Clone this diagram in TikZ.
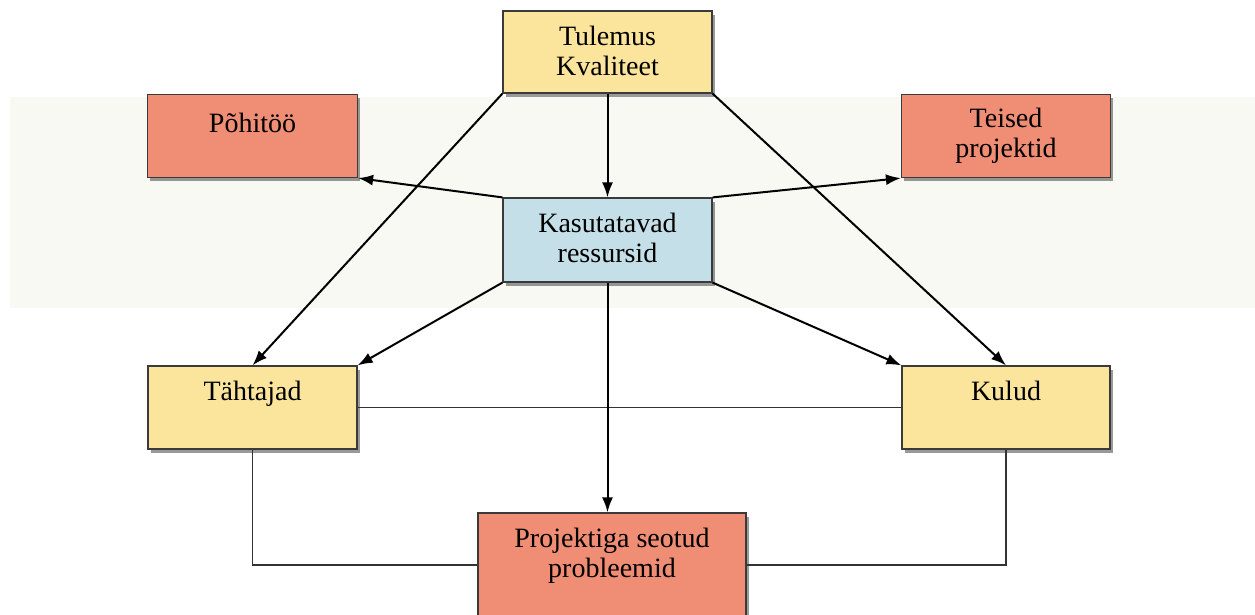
\documentclass[tikz,border=0pt]{standalone}
\usepackage{fontspec}
\setmainfont{Liberation Serif}
\usetikzlibrary{shadows,arrows.meta}
\definecolor{boxyellow}{HTML}{FBE59C}
\definecolor{boxsalmon}{HTML}{EF8D75}
\definecolor{boxblue}{HTML}{C5DFE8}
\definecolor{boxline}{HTML}{3A3A3A}
\definecolor{connline}{HTML}{333333}
\definecolor{bandcol}{HTML}{F9F9F3}
\begin{document}
\begin{tikzpicture}[x=1pt,y=-1pt,
  box/.style={draw=boxline, line width=1.2pt, inner sep=0pt,
    drop shadow={shadow xshift=2.5pt,shadow yshift=-3.5pt,opacity=0.4,fill=black}},
  ybox/.style={box, fill=boxyellow},
  sbox/.style={box, fill=boxsalmon},
  bbox/.style={box, fill=boxblue},
  txt/.style={font=\fontsize{28}{30}\selectfont, align=center, inner sep=0pt, anchor=base},
  arr/.style={line width=2pt, draw=black, -{Latex[length=15pt,width=11pt]}},
  conn/.style={line width=1.3pt, draw=connline}]
\useasboundingbox (0,0) rectangle (1255,614);
\clip (0,0) rectangle (1255,614);
\fill[bandcol] (10,97) rectangle (1255,308);

\node[ybox, minimum width=209pt, minimum height=82pt] (tul) at (607.5,52) {};
\node[sbox, minimum width=210pt, minimum height=83pt] (poh) at (252.5,136) {};
\node[sbox, minimum width=209pt, minimum height=83pt] (tei) at (1006,136) {};
\node[bbox, minimum width=209pt, minimum height=84pt] (kas) at (607.5,240) {};
\node[ybox, minimum width=209pt, minimum height=83pt] (tah) at (252.5,407.5) {};
\node[ybox, minimum width=208pt, minimum height=83pt] (kul) at (1006,407.5) {};
\node[sbox, minimum width=268pt, minimum height=104pt] (pro) at (612,565) {};

\node[txt] (tult) at ([yshift=-65pt]tul.north) {Tulemus\\Kvaliteet};
\node[txt] (poht) at ([yshift=-39pt]poh.north) {Põhitöö};
\node[txt] (teit) at ([yshift=-64pt]tei.north) {Teised\\projektid};
\node[txt] (kast) at ([yshift=-65pt]kas.north) {Kasutatavad\\ressursid};
\node[txt] (taht) at ([yshift=-35pt]tah.north) {Tähtajad};
\node[txt] (kult) at ([yshift=-35pt]kul.north) {Kulud};
\node[txt] (prot) at ([yshift=-65pt]pro.north) {Projektiga seotud\\probleemid};

\draw[conn] (tah.east) -- (kul.west);
\draw[conn] (tah.south) |- (pro.west);
\draw[conn] (kul.south) |- (pro.east);

\draw[arr] (tul.south west) -- (tah.north);
\draw[arr] (tul.south) -- (kas.north);
\draw[arr] (tul.south east) -- (kul.north);
\draw[arr] (kas.north west) -- (poh.south east);
\draw[arr] (kas.north east) -- (tei.south west);
\draw[arr] (kas.south west) -- (tah.north east);
\draw[arr] (kas.south east) -- (kul.north west);
\draw[arr] (kas.south) -- (kas.south |- pro.north);
\end{tikzpicture}
\end{document}
